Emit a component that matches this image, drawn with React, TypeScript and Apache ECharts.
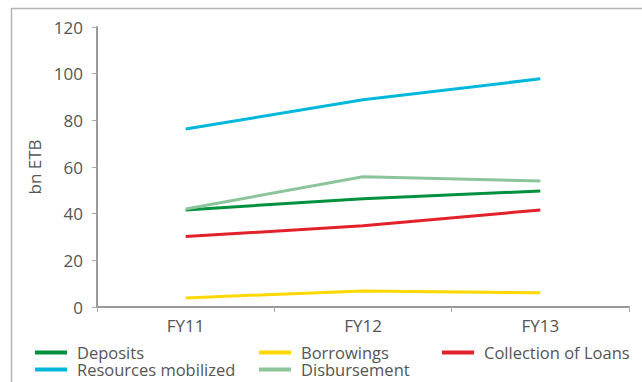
import React, { useEffect, useRef } from "react";
import * as echarts from "echarts";

const categories = ["FY11", "FY12", "FY13"];
const deposits = [41.6, 46.4, 49.7];
const borrowings = [3.9, 6.9, 6.1];
const collectionOfLoans = [30.2, 34.8, 41.6];
const resourcesMobilized = [76.3, 88.8, 97.8];
const disbursement = [42.0, 55.8, 54.0];
const yTicks = { min: 0, max: 120, interval: 20 };

const FONT = "Open Sans";
const TEXT = "#555555";
const FS = 17;

export default function App() {
  const ref = useRef<HTMLDivElement>(null);
  useEffect(() => {
    const chart = echarts.init(ref.current!, null, { renderer: "svg" });
    const mk = (name: string, data: number[], color: string) => ({
      name,
      type: "line",
      data,
      symbol: "none",
      lineStyle: { color, width: 3 },
      itemStyle: { color },
    });
    const legendBase = {
      orient: "vertical",
      icon: "rect",
      itemWidth: 32,
      itemHeight: 4,
      itemGap: 0,
      padding: 0,
      textStyle: { fontFamily: FONT, fontSize: 16.5, color: TEXT, lineHeight: 17, padding: [0, 0, 0, 5] },
    };
    chart.setOption({
      animation: false,
      grid: { left: 97, right: 13, top: 27, bottom: 75 },
      xAxis: {
        type: "category",
        data: categories,
        boundaryGap: true,
        axisLine: { lineStyle: { color: "#999999", width: 2 } },
        axisTick: { show: true, length: 5, lineStyle: { color: "#aaaaaa" } },
        axisLabel: { fontFamily: FONT, fontSize: FS, color: TEXT, margin: 10 },
      },
      yAxis: {
        type: "value",
        min: yTicks.min,
        max: yTicks.max,
        interval: yTicks.interval,
        name: "bn ETB",
        nameLocation: "middle",
        nameGap: 52,
        nameTextStyle: { fontFamily: FONT, fontSize: FS, color: TEXT },
        axisLine: { show: true, lineStyle: { color: "#999999", width: 2 } },
        axisTick: { show: true, length: 5, lineStyle: { color: "#aaaaaa" } },
        axisLabel: { fontFamily: FONT, fontSize: FS, color: TEXT, margin: 14 },
        splitLine: { show: false },
      },
      legend: [
        { ...legendBase, left: 35, top: 344, data: ["Deposits", "Resources mobilized"] },
        { ...legendBase, left: 259, top: 344, data: ["Borrowings", "Disbursement"] },
        { ...legendBase, left: 442, top: 344, data: ["Collection of Loans"] },
      ],
      graphic: [
        { type: "line", shape: { x1: 11, y1: 8.5, x2: 642, y2: 8.5 }, style: { stroke: "#b5b5b5", lineWidth: 1.5 }, silent: true },
        { type: "line", shape: { x1: 11.5, y1: 8, x2: 11.5, y2: 382 }, style: { stroke: "#b5b5b5", lineWidth: 1.5 }, silent: true },
      ],
      series: [
        mk("Deposits", deposits, "#00913f"),
        mk("Borrowings", borrowings, "#ffd800"),
        mk("Collection of Loans", collectionOfLoans, "#e2212a"),
        mk("Resources mobilized", resourcesMobilized, "#00b8dc"),
        mk("Disbursement", disbursement, "#8cc49b"),
      ],
    });
    return () => chart.dispose();
  }, []);
  return (
    <div
      ref={ref}
      style={{ position: "absolute", left: 0, top: 0, width: 642, height: 382, background: "#ffffff" }}
    />
  );
}
